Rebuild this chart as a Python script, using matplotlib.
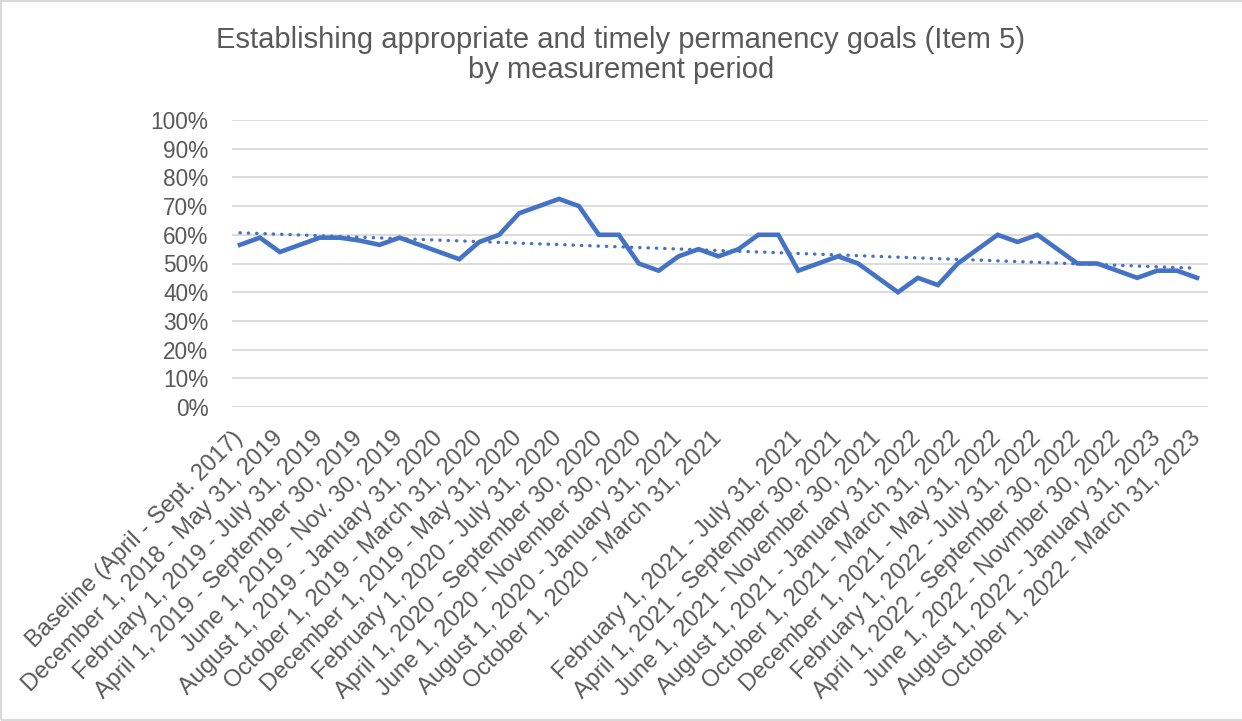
import numpy as np
import matplotlib
matplotlib.use("Agg")
import matplotlib.pyplot as plt
from matplotlib.patches import Rectangle
from matplotlib.ticker import PercentFormatter

title = "Establishing appropriate and timely permanency goals (Item 5)\nby measurement period"

# one value per rolling six-month period (Excel shows every other label)
values = [56.5, 59, 54, 56.5, 59, 59, 58, 56.5, 59, 56.5,
          54, 51.5, 57.5, 60, 67.5, 70, 72.5, 70, 60, 60,
          50, 47.5, 52.5, 55, 52.5, 55, 60, 60, 47.5, 50,
          52.5, 50, 45, 40, 45, 42.5, 50, 55, 60, 57.5,
          60, 55, 50, 50, 47.5, 45, 47.5, 47.5, 45]

tick_labels = [
    "Baseline (April - Sept. 2017)",
    "December 1, 2018 - May 31, 2019",
    "February 1, 2019 - July 31, 2019",
    "April 1, 2019 - September 30, 2019",
    "June 1, 2019 - Nov. 30, 2019",
    "August 1, 2019 - January 31, 2020",
    "October 1, 2019 - March 31, 2020",
    "December 1, 2019 - May 31, 2020",
    "February 1, 2020 - July 31, 2020",
    "April 1, 2020 - September 30, 2020",
    "June 1, 2020 - November 30, 2020",
    "August 1, 2020 - January 31, 2021",
    "October 1, 2020 - March 31, 2021",
    "",
    "February 1, 2021 - July 31, 2021",
    "April 1, 2021 - September 30, 2021",
    "June 1, 2021 - November 30, 2021",
    "August 1, 2021 - January 31, 2022",
    "October 1, 2021 - March 31, 2022",
    "December 1, 2021 - May 31, 2022",
    "February 1, 2022 - July 31, 2022",
    "April 1, 2022 - September 30, 2022",
    "June 1, 2022 - Novmber 30, 2022",
    "August 1, 2022 - January 31, 2023",
    "October 1, 2022 - March 31, 2023",
]

plt.rcParams['font.family'] = ['Liberation Sans', 'DejaVu Sans']
grey = '#595959'
blue = '#4472C4'

fig = plt.figure(figsize=(12.42, 7.21), dpi=100)
ax = fig.add_axes([232 / 1242, 1 - 407 / 721, (1208 - 232) / 1242, (407 - 120) / 721])

x = np.arange(len(values))
ax.plot(x, values, color=blue, lw=3.3, solid_joinstyle='miter', zorder=3)

# linear trendline
k, b = np.polyfit(x, values, 1)
ax.plot(x, k * x + b, color=blue, lw=2.4, ls=(0, (0.1, 2.4)),
        dash_capstyle='round', zorder=2)

ax.set_xlim(-0.4, len(values) - 0.45)
ax.set_ylim(0, 100)
ax.set_yticks(range(0, 101, 10))
ax.yaxis.set_major_formatter(PercentFormatter(decimals=0))
ax.grid(axis='y', color='#D9D9D9', lw=1.3)
ax.set_axisbelow(True)
for s in ax.spines.values():
    s.set_visible(False)

ax.set_xticks(range(0, len(values), 2))
ax.set_xticklabels(tick_labels, rotation=45, ha='right', va='center',
                   rotation_mode='anchor')
ax.tick_params(axis='x', length=0, pad=20, labelsize=17, labelcolor=grey)
ax.tick_params(axis='y', length=0, pad=17, labelsize=16.3, labelcolor=grey)

fig.text(0.5, 1 - 78 / 721, title, ha='center', va='baseline',
         fontsize=21, color=grey, linespacing=1.1)

fig.patches.append(Rectangle((0.001, 0.001), 1.2, 0.997, transform=fig.transFigure,
                             fill=False, ec='#D9D9D9', lw=1.5))

fig.savefig('out.png', dpi=100)
